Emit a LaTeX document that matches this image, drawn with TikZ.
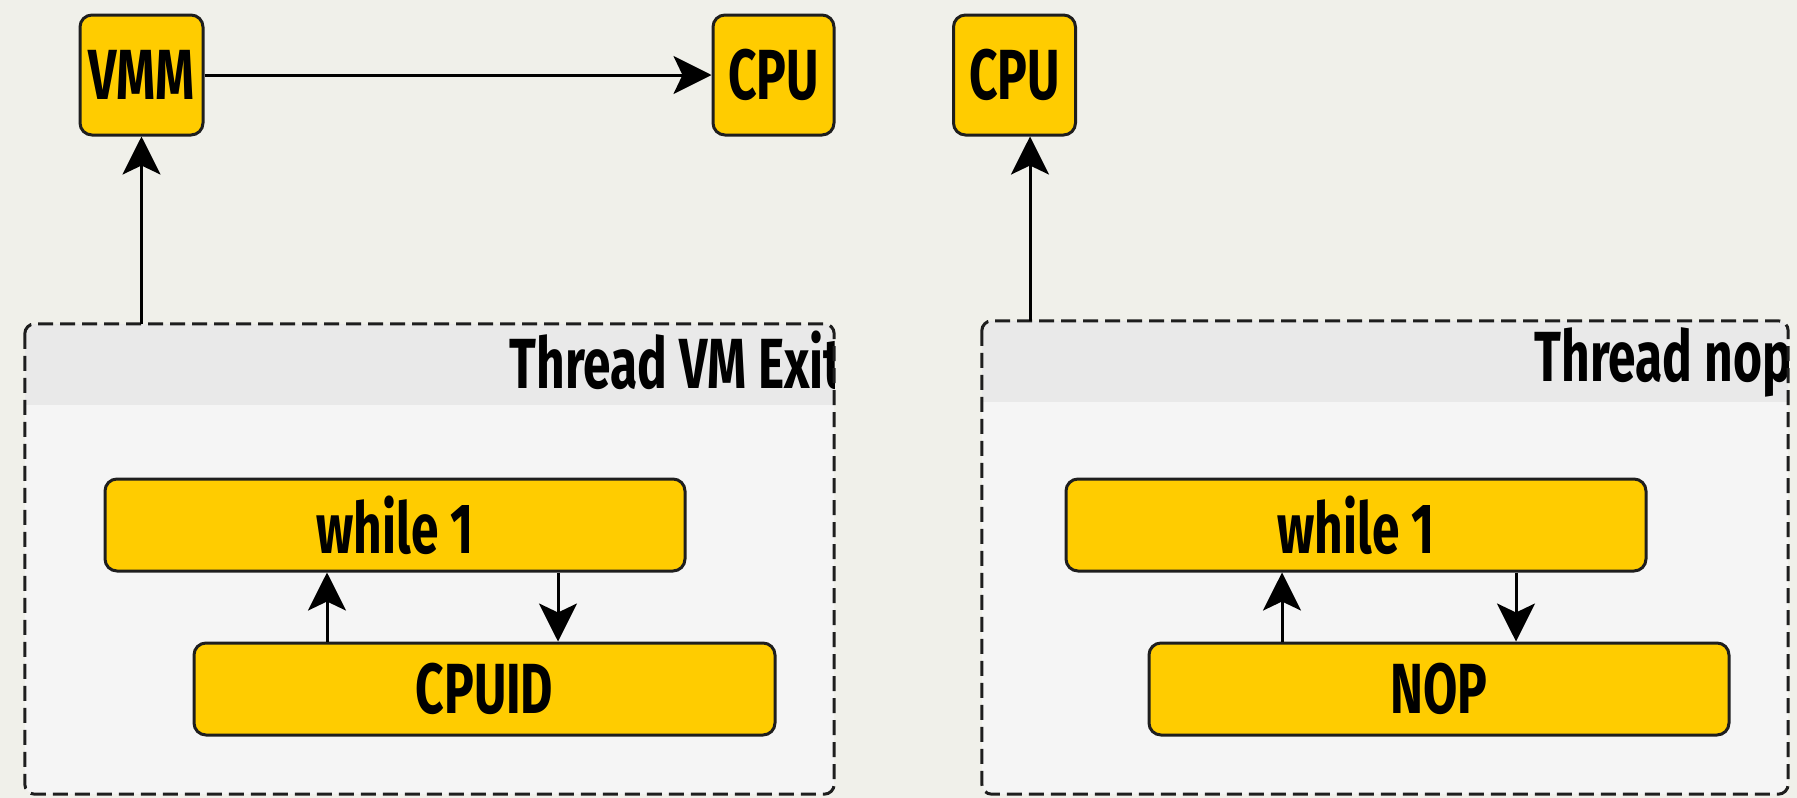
\documentclass[tikz,border=0pt]{standalone}
\usepackage{fontspec}
\setmainfont{Fira Sans}[FakeStretch=0.7]
\usetikzlibrary{arrows.meta}
\definecolor{bgc}{RGB}{240,240,234}
\definecolor{bodyc}{RGB}{245,245,245}
\definecolor{hdrc}{RGB}{233,233,233}
\definecolor{yelc}{RGB}{255,204,0}
\definecolor{edgec}{RGB}{30,30,30}
\newcommand{\labfont}{\bfseries\fontsize{71}{78}\selectfont}
\begin{document}
\begin{tikzpicture}[x=1pt,y=-1pt,
  yel/.style={draw=edgec, line width=3pt, fill=yelc, rounded corners=12pt, inner sep=0pt, font=\labfont},
  thread/.style={fill=bodyc, draw=none, inner sep=0pt, rounded corners=10pt},
  tborder/.style={draw=edgec, line width=3pt, dash pattern=on 15pt off 7pt, rounded corners=10pt},
  arr/.style={-{Stealth[length=38pt,width=38pt,inset=9pt]}, line width=3pt, draw=black},
  ttl/.style={anchor=base east, inner sep=0pt, font=\labfont}]
\useasboundingbox[fill=bgc] (0,0) rectangle (1797,798);

% thread containers
\node[thread, minimum width=809pt, minimum height=470pt] (t1) at (429.5,559) {};
\node[thread, minimum width=806pt, minimum height=473pt] (t2) at (1385,557.5) {};
\begin{scope}
  \clip[rounded corners=10pt] (t1.north west) rectangle (t1.south east);
  \fill[hdrc] (t1.north west) rectangle ([yshift=-81pt]t1.north east);
  \node[ttl] (title1) at (843,388) {Thread VM Exit};
\end{scope}
\begin{scope}
  \clip[rounded corners=10pt] (t2.north west) rectangle (t2.south east);
  \fill[hdrc] (t2.north west) rectangle ([yshift=-81pt]t2.north east);
  \node[ttl] (title2) at (1792,381) {Thread nop};
\end{scope}
\draw[tborder] (t1.north west) rectangle (t1.south east);
\draw[tborder] (t2.north west) rectangle (t2.south east);

% top nodes
\node[yel, minimum width=123pt, minimum height=120pt] (vmm) at (141.5,75) {VMM};
\node[yel, minimum width=121pt, minimum height=120pt] (cpu1) at (773.5,75) {CPU};
\node[yel, minimum width=122pt, minimum height=120pt] (cpu2) at (1014.5,75) {CPU};

% inner nodes
\node[yel, minimum width=580pt, minimum height=92pt] (w1) at (395,525) {while 1};
\node[yel, minimum width=581pt, minimum height=92pt] (cpuid) at (484.5,689) {CPUID};
\node[yel, minimum width=580pt, minimum height=92pt] (w2) at (1356,525) {while 1};
\node[yel, minimum width=580pt, minimum height=92pt] (nop) at (1439,689) {NOP};

% helper x positions
\coordinate (xa) at (327,0);
\coordinate (xb) at (558,0);
\coordinate (xc) at (1282,0);
\coordinate (xd) at (1516,0);
\coordinate (xe) at (1030,0);

% connectors
\draw[arr] (vmm) -- (cpu1);
\draw[arr] (vmm.south |- t1.north) -- (vmm.south);
\draw[arr] (xe |- t2.north) -- (xe |- cpu2.south);
\draw[arr] (xa |- cpuid.north) -- (xa |- w1.south);
\draw[arr] (xb |- w1.south) -- (xb |- cpuid.north);
\draw[arr] (xc |- nop.north) -- (xc |- w2.south);
\draw[arr] (xd |- w2.south) -- (xd |- nop.north);
\end{tikzpicture}
\end{document}
